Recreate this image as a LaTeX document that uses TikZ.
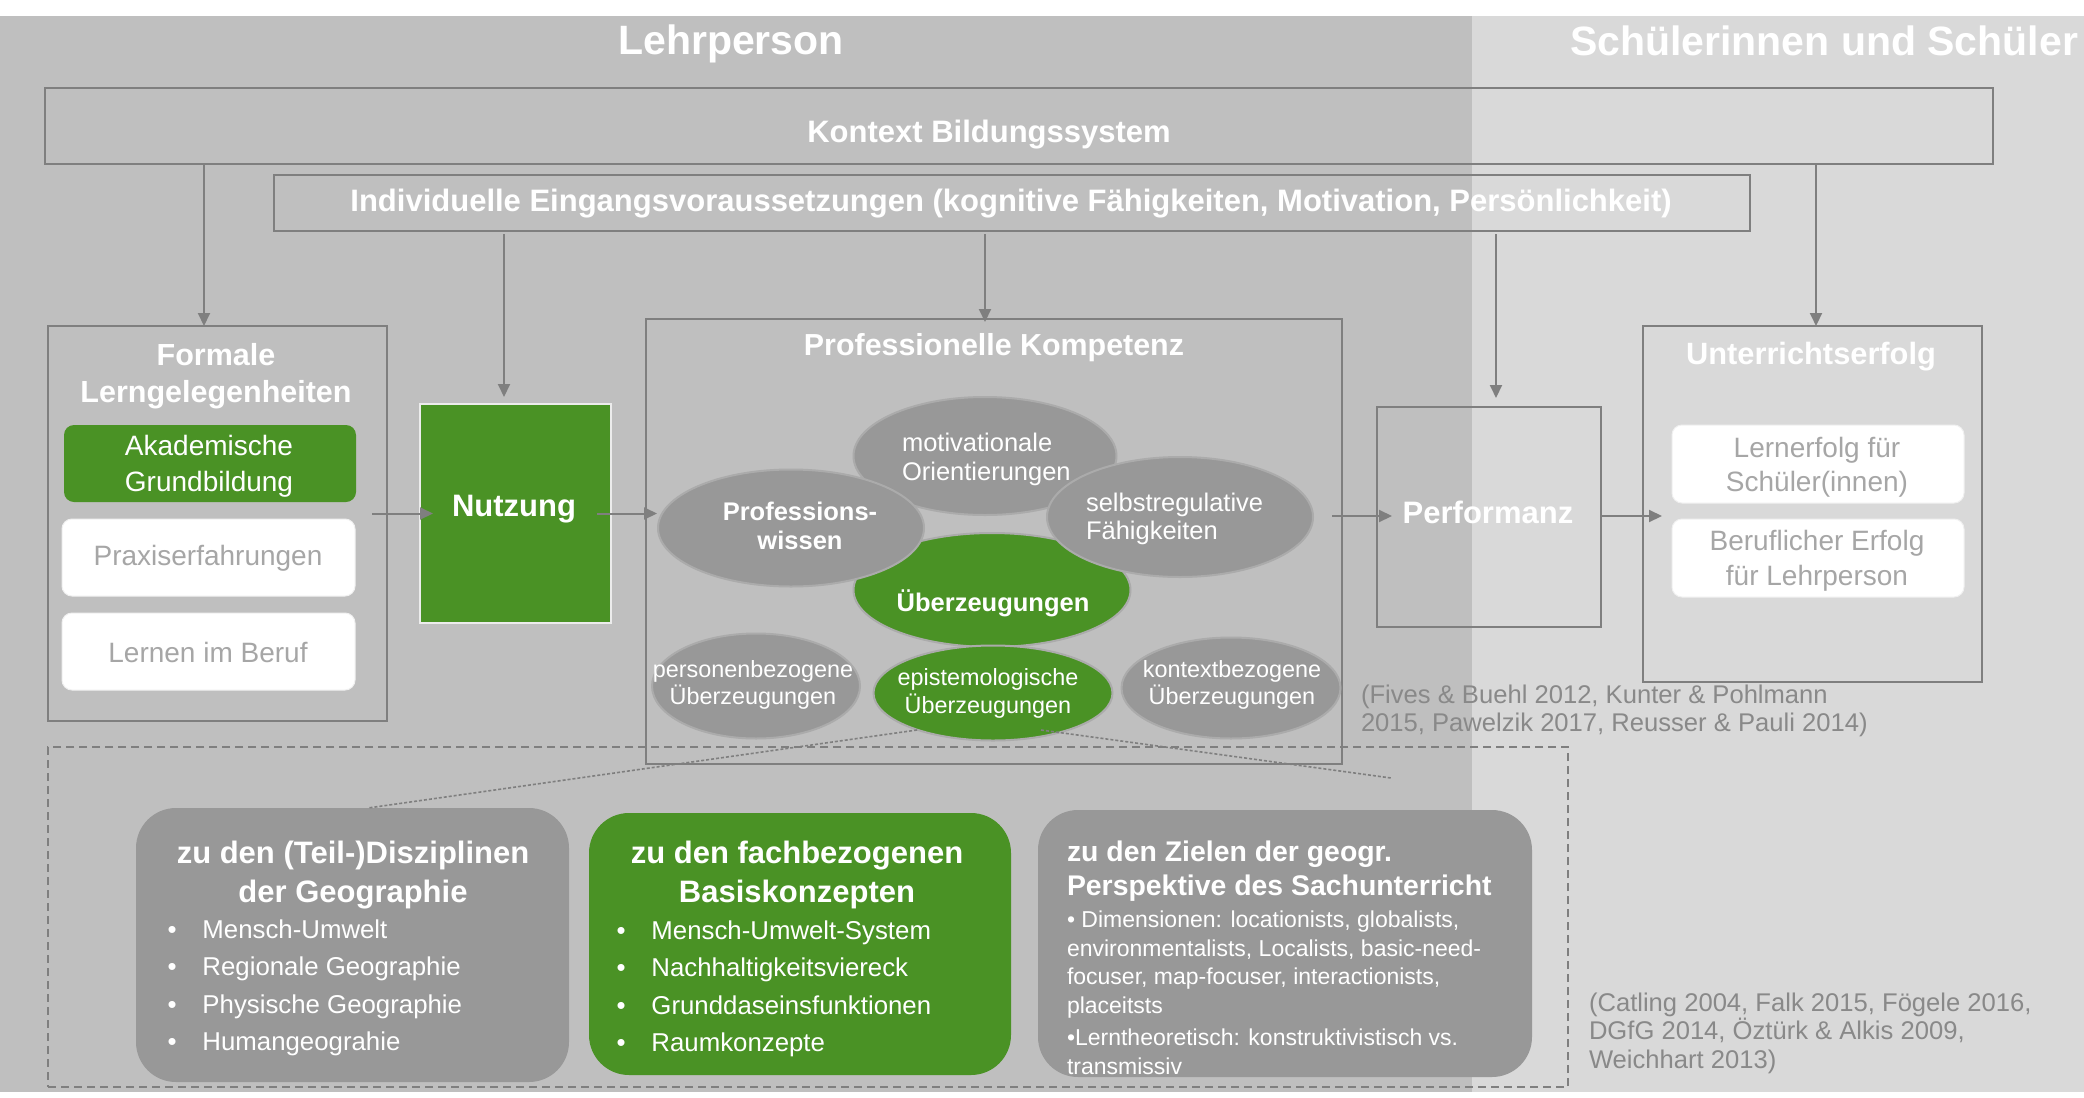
\documentclass[tikz,border=0pt]{standalone}
\usepackage{fontspec}
\setmainfont{Liberation Sans}
\usetikzlibrary{shapes.geometric,arrows.meta,calc}

\definecolor{bgdark}{HTML}{BFBFBF}
\definecolor{bglight}{HTML}{D9D9D9}
\definecolor{framegray}{HTML}{7F7F7F}
\definecolor{leaf}{HTML}{4A9225}
\definecolor{blob}{HTML}{989898}
\definecolor{blobrim}{HTML}{ABABAB}
\definecolor{softtext}{HTML}{A6A6A6}
\definecolor{citetext}{HTML}{898989}

\newcommand\fs[2]{\fontsize{#1}{#2}\selectfont}
\newcommand\bul{\makebox[17.5pt][l]{•}}

\begin{document}
\begin{tikzpicture}[x=0.5pt,y=-0.5pt,
  every node/.style={inner sep=0pt,outer sep=0pt},
  frame/.style={rectangle,draw=framegray,line width=1pt},
  card/.style={rectangle,rounded corners=5pt,fill=white,draw=white!88!gray,line width=0.5pt},
  greencard/.style={rectangle,rounded corners=5pt,fill=leaf},
  bigcard/.style={rectangle,rounded corners=20pt,fill=blob},
  ell/.style={ellipse,fill=blob,draw=blobrim,line width=1pt},
  gell/.style={ell,fill=leaf},
  wtxt/.style={text=white,align=center},
  stxt/.style={text=softtext,align=center},
  ctxt/.style={text=citetext,align=left,anchor=west,font=\fs{12.8pt}{14.25pt}},
  arr/.style={draw=framegray,line width=1pt,-{Triangle[length=6.5pt,width=6pt]}},
  zoomline/.style={draw=framegray,line width=0.8pt,dash pattern=on 1.5pt off 1pt},
  dashframe/.style={rectangle,draw=framegray,line width=0.7pt,dash pattern=on 4pt off 2.5pt}
]
\useasboundingbox (0,0) rectangle (2084,1098);
\fill[white] (0,0) rectangle (2084,1098);
% two columns: teacher side and pupil side
\fill[bgdark] (0,16) rectangle (1472,1092);
\fill[bglight] (1472,16) rectangle (2084,1092);

\node[wtxt,font=\fs{20.5pt}{24pt}\bfseries] (tlehr) at (731,44) {Lehrperson};
\node[wtxt,font=\fs{20.5pt}{24pt}\bfseries] (tschueler) at (1824,41) {Schülerinnen und Schüler};

% frames of the upper model
\node[frame,minimum width=974pt,minimum height=38pt] (kontext) at (1019,126) {};
\node[wtxt,font=\fs{15.5pt}{18pt}\bfseries] (tkontext) at (989,135) {Kontext Bildungssystem};
\node[frame,minimum width=738pt,minimum height=28pt] (indiv) at (1012,203) {};
\node[wtxt,font=\fs{15.5pt}{18pt}\bfseries] (tindiv) at (1011,204) {Individuelle Eingangsvoraussetzungen (kognitive Fähigkeiten, Motivation, Persönlichkeit)};

\node[frame,minimum width=169.5pt,minimum height=197.5pt] (formale) at (217.5,523.5) {};
\node[wtxt,font=\fs{15.25pt}{18.5pt}\bfseries] (tformale) at (216,376) {Formale\\Lerngelegenheiten};
\node[greencard,minimum width=146pt,minimum height=38.5pt] (akad) at (210,463.5) {};
\node[wtxt,font=\fs{14pt}{18pt}] (takad) at (209,466) {Akademische\\Grundbildung};
\node[card,minimum width=146.5pt,minimum height=38.5pt] (praxis) at (208.5,557.5) {};
\node[stxt,font=\fs{14pt}{18pt}] (tpraxis) at (208,558) {Praxiserfahrungen};
\node[card,minimum width=146.5pt,minimum height=38.5pt] (lernen) at (208.5,651.5) {};
\node[stxt,font=\fs{14pt}{18pt}] (tlernen) at (208,652) {Lernen im Beruf};

\node[rectangle,fill=leaf,draw=white!85!gray,line width=0.7pt,minimum width=95.5pt,minimum height=109.5pt] (nutzung) at (515.5,513.5) {};
\node[wtxt,font=\fs{15.5pt}{18pt}\bfseries] (tnutzung) at (514,509) {Nutzung};

\node[frame,minimum width=348pt,minimum height=222.5pt] (prof) at (994,541.5) {};
\node[wtxt,font=\fs{15.2pt}{18pt}\bfseries] (tprof) at (994,348) {Professionelle Kompetenz};

% facets of professional competence
\node[ell,minimum width=131.5pt,minimum height=59pt] (motiv) at (985,456) {};
\node[gell,minimum width=138.5pt,minimum height=57pt] (ueberz) at (992,590) {};
\node[ell,minimum width=133pt,minimum height=58.5pt] (profw) at (791,528) {};
\node[ell,minimum width=133pt,minimum height=60pt] (selbst) at (1180,517) {};
\node[ell,minimum width=104pt,minimum height=52.5pt] (pers) at (756,686) {};
\node[ell,minimum width=109.5pt,minimum height=50.5pt] (kontxt) at (1231,688) {};
\node[gell,minimum width=119.5pt,minimum height=47.5pt] (epist) at (993,693) {};

\node[text=white,align=left,anchor=west,font=\fs{12.75pt}{14.5pt}] (tmotiv) at (902,459) {motivationale\\Orientierungen};
\node[wtxt,font=\fs{12.75pt}{14.5pt}\bfseries] (tprofw) at (800,526) {Professions-\\wissen};
\node[text=white,align=left,anchor=west,font=\fs{12.75pt}{13.75pt}] (tselbst) at (1086,519) {selbstregulative\\Fähigkeiten};
\node[wtxt,font=\fs{12.75pt}{15pt}\bfseries] (tueberz) at (993,603) {Überzeugungen};
\node[wtxt,font=\fs{11.7pt}{13.5pt}] (tpers) at (753,685) {personenbezogene\\Überzeugungen};
\node[wtxt,font=\fs{11.7pt}{14pt}] (tepist) at (988,693) {epistemologische\\Überzeugungen};
\node[wtxt,font=\fs{11.7pt}{13.5pt}] (tkontxt) at (1232,685) {kontextbezogene\\Überzeugungen};

\node[frame,minimum width=112pt,minimum height=110pt] (performanz) at (1489,517) {};
\node[wtxt,font=\fs{15.5pt}{18pt}\bfseries] (tperf) at (1488,512) {Performanz};

\node[frame,minimum width=169.5pt,minimum height=178pt] (unterricht) at (1812.5,504) {};
\node[wtxt,font=\fs{15.4pt}{18pt}\bfseries] (tunterricht) at (1811,357) {Unterrichtserfolg};
\node[card,minimum width=146pt,minimum height=39pt] (lernerfolg) at (1818,464) {};
\node[stxt,font=\fs{14pt}{17.25pt}] (tlernerfolg) at (1817,467) {Lernerfolg für\\Schüler(innen)};
\node[card,minimum width=146pt,minimum height=39pt] (beruf) at (1818,558) {};
\node[stxt,font=\fs{14pt}{17.5pt}] (tberuf) at (1817,561) {Beruflicher Erfolg\\für Lehrperson};

\node[ctxt] (cite1) at (1361,711) {(Fives \& Buehl 2012, Kunter \& Pohlmann\\2015, Pawelzik 2017, Reusser \& Pauli 2014)};

% zoomed detail: epistemological beliefs
\node[dashframe,minimum width=760pt,minimum height=170pt] (detail) at (808,917) {};
\coordinate (zoomR) at (1391,778);

\node[bigcard,minimum width=216.5pt,minimum height=137pt] (box1) at (352.5,945) {};
\node[wtxt,font=\fs{15.5pt}{19.5pt}\bfseries] (tbox1) at (353,875) {zu den (Teil-)Disziplinen\\der Geographie};
\node[text=white,align=left,anchor=west,font=\fs{12.9pt}{18.75pt}] (lbox1) at (167.5,988) {\bul Mensch-Umwelt\\\bul Regionale Geographie\\\bul Physische Geographie\\\bul Humangeograhie};

\node[bigcard,fill=leaf,minimum width=211pt,minimum height=131pt] (box2) at (800,944) {};
\node[wtxt,font=\fs{15.5pt}{19.5pt}\bfseries] (tbox2) at (797,875) {zu den fachbezogenen\\Basiskonzepten};
\node[text=white,align=left,anchor=west,font=\fs{12.9pt}{18.75pt}] (lbox2) at (616.5,989) {\bul Mensch-Umwelt-System\\\bul Nachhaltigkeitsviereck\\\bul Grunddaseinsfunktionen\\\bul Raumkonzepte};

\node[bigcard,minimum width=247pt,minimum height=133.5pt] (box3) at (1285,943.5) {};
\node[text=white,align=left,anchor=west,font=\fs{14.2pt}{17pt}\bfseries] (tbox3) at (1067,871) {zu den Zielen der geogr.\\Perspektive des Sachunterricht};
\node[text=white,align=left,anchor=west,font=\fs{11.5pt}{14.25pt}] (lbox3) at (1067,993) {• Dimensionen: locationists, globalists,\\environmentalists, Localists, basic-need-\\focuser, map-focuser, interactionists,\\placeitsts\\[2pt]•Lerntheoretisch: konstruktivistisch vs.\\transmissiv};

\node[ctxt] (cite2) at (1589,1033) {(Catling 2004, Falk 2015, Fögele 2016,\\DGfG 2014, Öztürk \& Alkis 2009,\\Weichhart 2013)};

\draw[zoomline] ($(epist.center)+(-76,37)$) -- ($(box1.north)+(15.5,0)$);
\draw[zoomline] ($(epist.center)+(48,37)$) -- (zoomR);

% influences from the context
\draw[arr] ($(formale.north |- kontext.south)+(-13.5,0)$) -- ($(formale.north)+(-13.5,0)$);
\draw[arr] ($(unterricht.north |- kontext.south)+(3.5,0)$) -- ($(unterricht.north)+(3.5,0)$);
\draw[arr] ($(nutzung.north |- indiv.south)+(-11.5,3)$) -- ($(nutzung.north)+(-11.5,-7)$);
\draw[arr] ($(prof.north |- indiv.south)+(-9,3)$) -- ($(prof.north)+(-9,3)$);
\draw[arr] ($(performanz.north |- indiv.south)+(7,3)$) -- ($(performanz.north)+(7,-9)$);

% main chain
\draw[arr] ($(formale.east |- nutzung.west)+(-15,0)$) -- ($(nutzung.west)+(13,0)$);
\draw[arr] ($(nutzung.east)+(-14,0)$) -- ($(prof.west |- nutzung.east)+(11,0)$);
\draw[arr] ($(prof.east |- performanz.west)+(-10,-1)$) -- ($(performanz.west)+(15,-1)$);
\draw[arr] ($(performanz.east)+(0,-1)$) -- ($(unterricht.west |- performanz.east)+(19,-1)$);
\end{tikzpicture}
\end{document}
